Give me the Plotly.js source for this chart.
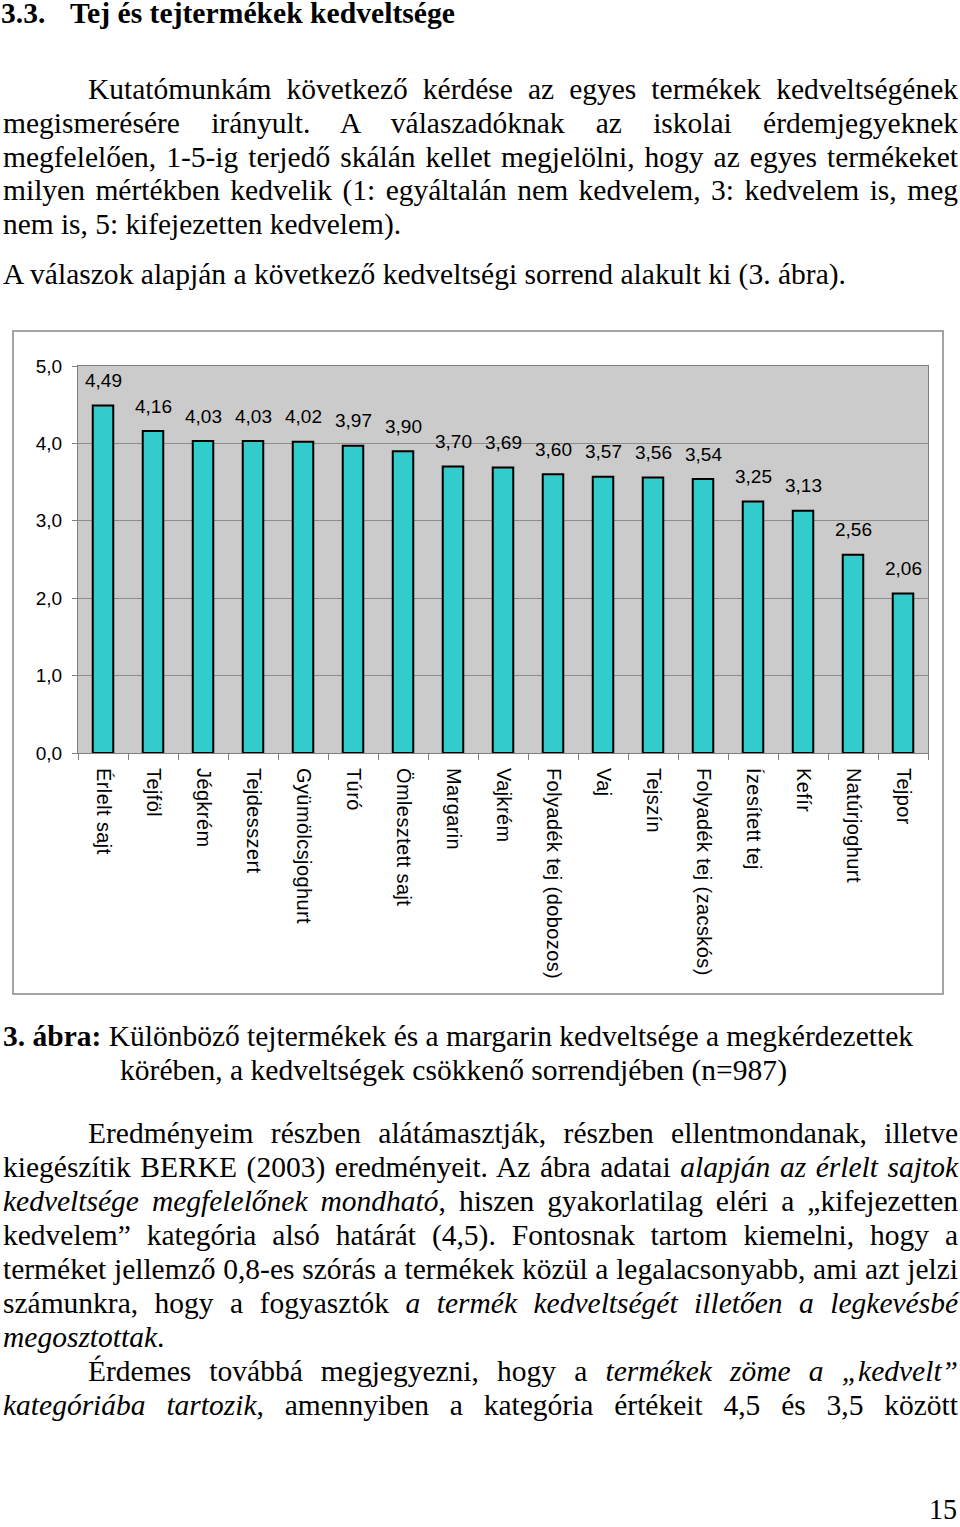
<!DOCTYPE html>
<html>
<head>
<meta charset="utf-8">
<script src="https://cdn.plot.ly/plotly-3.0.1.min.js"></script>
<style>
  html, body { margin:0; padding:0; background:#fff; }
  body { width:960px; height:1527px; position:relative; overflow:hidden; font-family:"Liberation Serif","Times New Roman",serif; color:#000; }
  .ln { position:absolute; white-space:nowrap; font-size:29.5px; line-height:0.8; transform-origin:0 0; display:inline-block; }
  #chartbox { position:absolute; left:12px; top:330px; width:932px; height:665px; border:2px solid #a4a4a4; box-sizing:border-box; }
  #chart { width:928px; height:661px; }
  #chart .xtick text { letter-spacing:0.4px; }
</style>
</head>
<body>
<div id="chartbox"><div id="chart"></div></div>
<div id="text"></div>
<script>
// ---- chart data ----
const categories = ["Érlelt sajt","Tejföl","Jégkrém","Tejdesszert","Gyümölcsjoghurt","Túró","Ömlesztett sajt","Margarin","Vajkrém","Folyadék tej (dobozos)","Vaj","Tejszín","Folyadék tej (zacskós)","Ízesített tej","Kefír","Natúrjoghurt","Tejpor"];
const values = [4.49,4.16,4.03,4.03,4.02,3.97,3.90,3.70,3.69,3.60,3.57,3.56,3.54,3.25,3.13,2.56,2.06];
const yTicks = [0,1,2,3,4,5];

const fmt = v => v.toFixed(2).replace('.', ',');

const trace = {
  type:'bar', x:categories, y:values, width:0.41,
  marker:{color:'#33cccc', line:{color:'#000', width:2}},
  hoverinfo:'none'
};
const annotations = categories.map((c,i)=>({
  x:c, y:values[i], xref:'x', yref:'y', text:fmt(values[i]), showarrow:false,
  yanchor:'middle', yshift:25, font:{family:'Liberation Sans, Arial, sans-serif', size:19, color:'#000'}
}));
const layout = {
  width:928, height:661,
  margin:{l:64, r:14, t:34, b:240},
  paper_bgcolor:'#fff', plot_bgcolor:'#cbcbcb',
  separators:', ',
  showlegend:false,
  font:{family:'Liberation Sans, Arial, sans-serif', size:19, color:'#000'},
  xaxis:{type:'category', range:[-0.5,16.5], tickson:'boundaries', ticks:'outside', ticklen:6, tickcolor:'#808080',
         showline:true, linecolor:'#808080', linewidth:1, mirror:true, showgrid:false, tickangle:90,
         tickfont:{size:20}, ticklabelstandoff:10},
  yaxis:{range:[0,5], tickvals:yTicks, tickformat:'.1f', showgrid:true, gridcolor:'#8c8c8c', gridwidth:1,
         showline:true, linecolor:'#808080', linewidth:1, mirror:true, ticks:'outside', ticklen:5, tickcolor:'#808080',
         zeroline:false, tickfont:{size:19}, ticklabelstandoff:6},
  annotations:annotations
};
Plotly.newPlot('chart',[trace],layout,{displayModeBar:false, staticPlot:true});

// ---- page text ----
const lines = [
  {h:'<b>3.3.</b>', x:1, b:24},
  {h:'<b>Tej és tejtermékek kedveltsége</b>', x:70, b:24, w:385},
  {h:'Kutatómunkám következő kérdése az egyes termékek kedveltségének', x:88, b:100, w:870, j:1},
  {h:'megismerésére irányult. A válaszadóknak az iskolai érdemjegyeknek', x:3, b:134, w:955, j:1},
  {h:'megfelelően, 1-5-ig terjedő skálán kellet megjelölni, hogy az egyes termékeket', x:3, b:168, w:955, j:1},
  {h:'milyen mértékben kedvelik (1: egyáltalán nem kedvelem, 3: kedvelem is, meg', x:3, b:201, w:955, j:1},
  {h:'nem is, 5: kifejezetten kedvelem).', x:3, b:235, w:398},
  {h:'A válaszok alapján a következő kedveltségi sorrend alakult ki (3. ábra).', x:3, b:285, w:843},
  {h:'<b>3. ábra:</b> Különböző tejtermékek és a margarin kedveltsége a megkérdezettek', x:3, b:1047, w:910},
  {h:'körében, a kedveltségek csökkenő sorrendjében (n=987)', x:120, b:1081, w:667},
  {h:'Eredményeim részben alátámasztják, részben ellentmondanak, illetve', x:88, b:1144, w:870, j:1},
  {h:'kiegészítik BERKE (2003) eredményeit. Az ábra adatai <i>alapján az érlelt sajtok</i>', x:3, b:1178, w:955, j:1},
  {h:'<i>kedveltsége megfelelőnek mondható</i>, hiszen gyakorlatilag eléri a „kifejezetten', x:3, b:1212, w:955, j:1},
  {h:'kedvelem” kategória alsó határát (4,5). Fontosnak tartom kiemelni, hogy a', x:3, b:1246, w:955, j:1},
  {h:'terméket jellemző 0,8-es szórás a termékek közül a legalacsonyabb, ami azt jelzi', x:3, b:1280, w:955, j:1},
  {h:'számunkra, hogy a fogyasztók <i>a termék kedveltségét illetően a legkevésbé</i>', x:3, b:1314, w:955, j:1},
  {h:'<i>megosztottak</i>.', x:3, b:1348},
  {h:'Érdemes továbbá megjegyezni, hogy a <i>termékek zöme a „kedvelt”</i>', x:88, b:1382, w:870, j:1},
  {h:'<i>kategóriába tartozik</i>, amennyiben a kategória értékeit 4,5 és 3,5 között', x:3, b:1416, w:955, j:1},
  {h:'15', x:929, b:1520, w:28}
];
const holder = document.getElementById('text');
const els = lines.map(L=>{
  const d = document.createElement('div');
  d.className='ln'; d.innerHTML=L.h;
  d.style.left=L.x+'px'; d.style.top=(L.b-21.8)+'px';
  holder.appendChild(d); return d;
});
function fit(){
  lines.forEach((L,i)=>{
    const d=els[i];
    d.style.wordSpacing='0px'; d.style.transform='none';
    if(!L.w) return;
    const w0=d.getBoundingClientRect().width;
    if(L.j){
      const n=(d.textContent.match(/ /g)||[]).length;
      const ws=(L.w-w0)/Math.max(n,1);
      if(ws>=-1.5){ d.style.wordSpacing=ws+'px'; return; }
    }
    const r=L.w/w0;
    if(r>0.85 && r<1.15) d.style.transform='scaleX('+r+')';
  });
}
fit();
if(document.fonts && document.fonts.ready) document.fonts.ready.then(fit);
</script>
</body>
</html>
